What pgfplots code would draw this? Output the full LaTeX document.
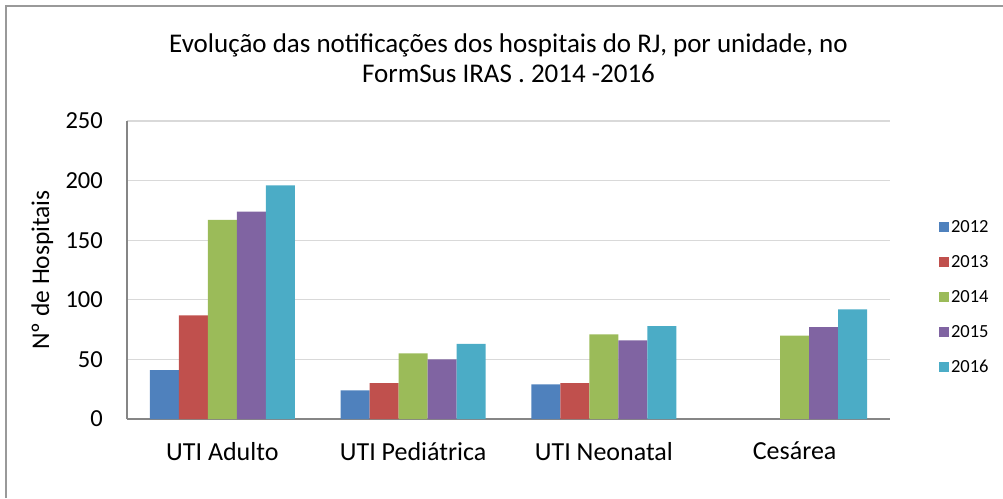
\documentclass[border=0pt]{standalone}
\usepackage{fontspec}
\setmainfont{Carlito}
\usepackage{pgfplots}
\pgfplotsset{compat=1.18}
\definecolor{c12}{HTML}{4F81BD}
\definecolor{c13}{HTML}{C0504D}
\definecolor{c14}{HTML}{9BBB59}
\definecolor{c15}{HTML}{8064A2}
\definecolor{c16}{HTML}{4BACC6}
\definecolor{gridgray}{HTML}{D9D9D9}
\definecolor{axisgray}{HTML}{868686}
\begin{document}
\begin{tikzpicture}[x=1pt,y=1pt]
\useasboundingbox (0,0) rectangle (1003,498);
\draw[color=black!40, line width=1.3pt] (6,0) -- (6,492) -- (1003,492);
\begin{axis}[
  at={(127pt,79pt)}, anchor=south west,
  scale only axis, width=763pt, height=298pt,
  xmin=-0.5, xmax=3.5, ymin=0, ymax=250,
  ytick={0,50,100,150,200,250},
  xtick={0,1,2,3},
  xticklabels={UTI Adulto, UTI Pediátrica, UTI Neonatal, Cesárea},
  ymajorgrids, grid style={color=gridgray, line width=1.2pt},
  axis x line*=bottom, axis y line*=left,
  axis line style={-, color=axisgray, line width=1.2pt},
  major tick length=0pt,
  ybar=0pt, bar width=29pt,
  /pgf/number format/assume math mode=true,
  yticklabel style={font=\fontsize{24.5}{24.5}\selectfont, anchor=east, inner sep=0pt, xshift=-24pt},
  xticklabel style={font=\fontsize{26}{26}\selectfont, anchor=north, inner sep=0pt, yshift=-23pt},
  ylabel={Nº de Hospitais},
  ylabel style={font=\fontsize{25.5}{25.5}\selectfont, at={(axis description cs:-0.111,0.5)}, anchor=center, rotate=0},
  title={Evolução das notificações dos hospitais do RJ, por unidade, no\\FormSus IRAS . 2014 -2016},
  title style={font=\fontsize{27}{30}\selectfont, align=center, at={(axis description cs:0.5,1)}, anchor=south, yshift=29pt},
  legend image code/.code={\fill[#1] (0pt,-5pt) rectangle (10pt,5pt);},
  legend style={at={(axis description cs:1.064,0.409)}, anchor=west, draw=none, fill=none,
    font=\fontsize{18.5}{18.5}\selectfont, row sep=17.5pt, inner sep=0pt,
    cells={anchor=west}},
]
\addplot[fill=c12, draw=none] coordinates {(0,41) (1,24) (2,29)};
\addplot[fill=c13, draw=none] coordinates {(0,87) (1,30) (2,30)};
\addplot[fill=c14, draw=none] coordinates {(0,167) (1,55) (2,71) (3,70)};
\addplot[fill=c15, draw=none] coordinates {(0,174) (1,50) (2,66) (3,77)};
\addplot[fill=c16, draw=none] coordinates {(0,196) (1,63) (2,78) (3,92)};
\legend{2012,2013,2014,2015,2016}
\end{axis}
\end{tikzpicture}
\end{document}
